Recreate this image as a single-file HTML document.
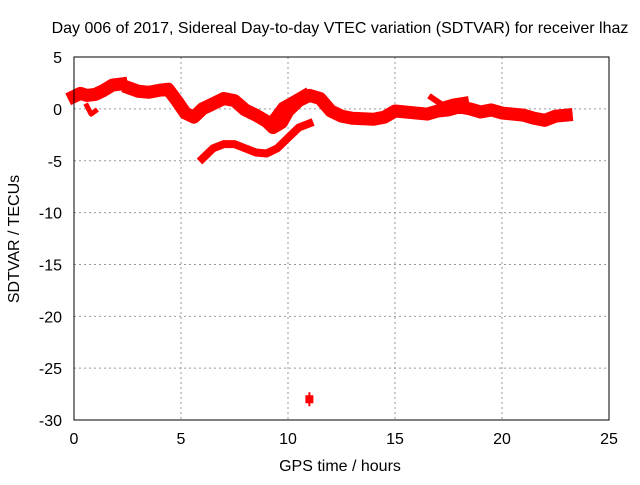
<!DOCTYPE html>
<html><head><meta charset="utf-8"><style>
body{margin:0;background:#fff;font-family:"Liberation Sans",sans-serif}
svg text{font-family:"Liberation Sans",sans-serif;font-size:16px;fill:#000}
</style></head><body>
<svg id="c" width="640" height="480">
<text x="340" y="33" text-anchor="middle">Day 006 of 2017, Sidereal Day-to-day VTEC variation (SDTVAR) for receiver lhaz</text>
<text x="340" y="471" text-anchor="middle">GPS time / hours</text>
<text transform="translate(19,239) rotate(-90)" text-anchor="middle">SDTVAR / TECUs</text>
<g id="grid"></g><g id="marks"></g>
<rect x="74" y="57" width="535" height="363" fill="none" stroke="#000"/>
</svg>
<script>
const xTicks=[0,5,10,15,20,25];
const yTicks=[5,0,-5,-10,-15,-20,-25,-30];
const mainHours=[0,0.3,0.6,1,1.4,1.8,2.2];
const mainVals=[1.2,1.5,1.3,1.4,1.8,2.3,2.4];
const bandHours=[2.6,3,3.5,4,4.4,4.8,5.2,5.6,6,6.5,7,7.5,8,8.5,9,9.3,9.7,10,10.5,11,11.5,12,12.5,13,14,14.5,15,16,16.5,17,17.5,18,18.5,19,19.5,20,21,21.5,22,22.5,23];
const bandVals=[2.0,1.7,1.6,1.8,1.9,0.8,-0.4,-0.8,0.0,0.5,1.0,0.8,-0.1,-0.6,-1.2,-1.8,-1.3,-0.2,0.8,1.3,1.0,-0.2,-0.7,-0.9,-1.0,-0.8,-0.2,-0.4,-0.5,-0.2,-0.1,0.2,0,-0.3,-0.1,-0.4,-0.6,-0.9,-1.1,-0.7,-0.6];
const lowHours=[6,6.5,7,7.5,8,8.5,9,9.5,10,10.5,11];
const lowVals=[-4.8,-3.8,-3.4,-3.4,-3.8,-4.2,-4.3,-3.8,-2.8,-1.8,-1.4];
const offHours=[9.3,9.7,10.3,10.8];
const offVals=[-0.8,0.3,1.0,1.6];
const spikeHours=[16.7,17.2,17.7,18.3];
const spikeVals=[1.1,0.4,0.7,0.9];
const dipHours=[0.6,0.8,1.0];
const dipVals=[0.3,-0.5,-0.2];
const outHours=[11];
const outVals=[-28];
const X=h=>74+h*535/25, Y=v=>108.9-v*363/35;
const NS='http://www.w3.org/2000/svg';
const g=document.getElementById('grid'), m=document.getElementById('marks');
function el(t,a,p){const e=document.createElementNS(NS,t);for(const k in a)e.setAttribute(k,a[k]);p.appendChild(e);return e;}
xTicks.forEach(t=>{
 if(t>0&&t<25){const l=el('line',{x1:X(t),x2:X(t),y1:57,y2:420,stroke:'#999','stroke-dasharray':'2,3'},g);
 
 }
 const tx=el('text',{x:X(t),y:444,'text-anchor':'middle'},g);tx.textContent=t;
 
 
});
yTicks.forEach(t=>{
 if(t<5&&t>-30){const l=el('line',{x1:74,x2:609,y1:Y(t),y2:Y(t),stroke:'#999','stroke-dasharray':'2,3'},g);
 
 }
 const tx=el('text',{x:62,y:Y(t)+6,'text-anchor':'end'},g);tx.textContent=t;
 
 
});
function series(hs,vs,w,name){
 const p=el('polyline',{points:hs.map((h,i)=>X(h)+','+Y(vs[i])).join(' '),fill:'none',stroke:'#f00','stroke-width':w,'stroke-linejoin':'round','stroke-linecap':'square'},m);
 
 
}
series(mainHours,mainVals,13,'series-early');
series(bandHours,bandVals,13,'series-main-band');
series(lowHours,lowVals,8,'series-lower-branch');
series(offHours,offVals,7,'series-offshoot');
series(spikeHours,spikeVals,6,'series-spikes');
series(dipHours,dipVals,5,'series-dip');
outHours.forEach((h,i)=>{
 const p=el('path',{d:`M${X(h)-3},${Y(outVals[i])-3}h6v6h-6z M${X(h)},${Y(outVals[i])-7}v14`,fill:'#f00',stroke:'#f00','stroke-width':2},m);
 
 
});
</script>
</body></html>
